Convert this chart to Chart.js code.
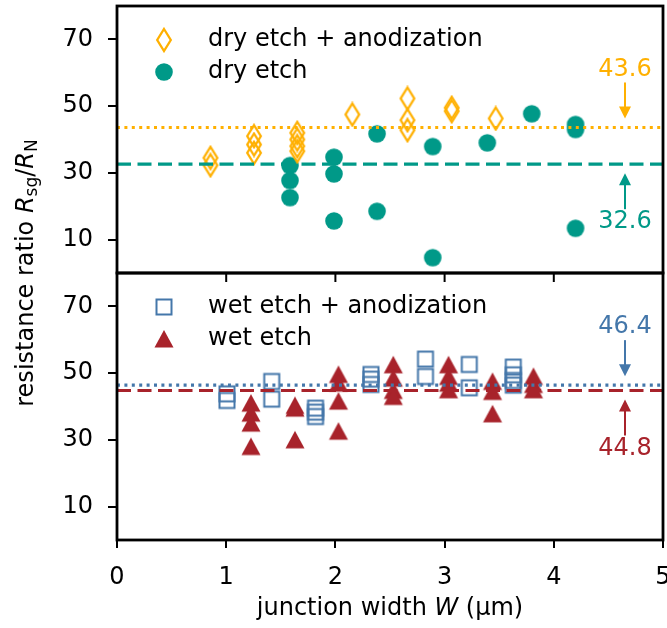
<!DOCTYPE html>
<html>
<head>
<meta charset="utf-8">
<script src="https://cdn.jsdelivr.net/npm/chart.js@4.4.0/dist/chart.umd.min.js"></script>
<style>
  html, body { margin: 0; padding: 0; background: #fff; }
  canvas { display: block; }
</style>
</head>
<body>
<canvas id="grafico-razao" width="667" height="628"></canvas>
<script>
// Upper panel: dry etch, with and without anodization
var dryAnodX = [0.856, 0.856, 1.255, 1.255, 1.255, 1.651, 1.651, 1.651, 1.651, 2.155, 2.66, 2.66, 2.66, 3.065, 3.065, 3.468];
var dryAnodY = [34.5, 32.3, 41.0, 38.5, 36.0, 42.0, 40.0, 38.0, 36.5, 47.5, 52.3, 45.8, 42.8, 49.5, 48.5, 46.3];
var dryX = [1.584, 1.584, 1.584, 1.987, 1.987, 1.987, 2.381, 2.381, 2.891, 2.891, 3.391, 3.798, 4.199, 4.199, 4.199];
var dryY = [32.2, 27.7, 22.6, 34.7, 29.7, 15.6, 41.7, 18.5, 37.9, 4.6, 39.0, 47.7, 44.5, 43.0, 13.4];

// Lower panel: wet etch, with and without anodization
var wetAnodX = [1.007, 1.007, 1.417, 1.417, 1.818, 1.818, 1.818, 2.326, 2.326, 2.326, 2.825, 2.825, 3.226, 3.226, 3.629, 3.629, 3.629, 3.629];
var wetAnodY = [43.8, 41.8, 47.5, 42.2, 39.5, 38.3, 37.0, 49.6, 48.2, 46.6, 54.2, 49.0, 52.6, 45.6, 51.8, 49.5, 47.8, 46.4];
var wetX = [1.227, 1.227, 1.227, 1.227, 1.63, 1.63, 1.63, 2.028, 2.028, 2.028, 2.028, 2.53, 2.53, 2.53, 2.53, 3.036, 3.036, 3.036, 3.036, 3.439, 3.439, 3.439, 3.814, 3.814, 3.814];
var wetY = [41.0, 38.0, 35.0, 28.0, 40.3, 39.5, 30.0, 49.6, 47.0, 41.6, 32.6, 52.5, 48.5, 44.8, 43.0, 52.5, 49.0, 47.0, 45.0, 47.5, 44.5, 37.8, 49.0, 46.6, 45.0];

// Mean ratios
var meanDryAnod = 43.6;
var meanDry = 32.6;
var meanWetAnod = 46.4;
var meanWet = 44.8;
var meanLabelX = 4.652;

// Axes
var xTicks = [0, 1, 2, 3, 4, 5];
var yTicks = [10, 30, 50, 70];
var labelsDry = ["dry etch + anodization", "dry etch"];
var labelsWet = ["wet etch + anodization", "wet etch"];

var FONT = "DejaVu Sans";
var FONT_SIZE = 24;
var corLaranja = "#FFB000";
var corVerde = "#009988";
var corAzul = "#4477AA";
var corVermelho = "#A8232B";

// Marcadores desenhados em canvas pequenos
function criaMarcador(w, h, desenho) {
  var c = document.createElement("canvas");
  c.width = w;
  c.height = h;
  desenho(c.getContext("2d"));
  return c;
}

var marcadorLosango = criaMarcador(18, 26, function (g) {
  g.strokeStyle = corLaranja;
  g.lineWidth = 2.3;
  g.beginPath();
  g.moveTo(9, 2);
  g.lineTo(15.8, 13);
  g.lineTo(9, 24);
  g.lineTo(2.2, 13);
  g.closePath();
  g.stroke();
});

var marcadorCirculo = criaMarcador(20, 20, function (g) {
  g.fillStyle = corVerde;
  g.beginPath();
  g.arc(10, 10, 8.8, 0, Math.PI * 2);
  g.fill();
});

var marcadorQuadrado = criaMarcador(20, 20, function (g) {
  g.strokeStyle = corAzul;
  g.lineWidth = 2;
  g.strokeRect(2.5, 2.5, 15, 15);
});

var marcadorTriangulo = criaMarcador(22, 20, function (g) {
  g.fillStyle = corVermelho;
  g.beginPath();
  g.moveTo(11, 1);
  g.lineTo(20.5, 18.5);
  g.lineTo(1.5, 18.5);
  g.closePath();
  g.fill();
});

function pontos(xs, ys) {
  return xs.map(function (x, i) {
    return { x: x, y: ys[i] };
  });
}

function linhaMedia(valor, cor, tracejado, eixo) {
  return {
    type: "line",
    data: [{ x: xTicks[0], y: valor }, { x: xTicks[xTicks.length - 1], y: valor }],
    borderColor: cor,
    borderWidth: 3.2,
    borderDash: tracejado,
    pointRadius: 0,
    yAxisID: eixo,
  };
}

function serie(xs, ys, marcador, eixo) {
  return {
    data: pontos(xs, ys),
    pointStyle: marcador,
    pointRadius: 9,
    yAxisID: eixo,
  };
}

var fonteTicks = { family: FONT, size: FONT_SIZE };

function eixoY(peso) {
  return {
    type: "linear",
    position: "left",
    stack: "paineis",
    stackWeight: 1,
    weight: peso,
    min: 0,
    max: 80,
    afterBuildTicks: function (s) {
      s.ticks = yTicks.map(function (v) { return { value: v }; });
    },
    ticks: { font: fonteTicks, color: "#000", padding: 15 },
    grid: { drawOnChartArea: false, tickLength: 9, lineWidth: 2, color: "#000" },
    border: { display: false },
    afterFit: function (s) {
      s.width = 117;
      s.paddingTop = 0;
      s.paddingBottom = 0;
    },
  };
}

// Texto com trechos em itálico e subscrito
function desenhaTrechos(ctx, trechos, x, y) {
  var larguras = trechos.map(function (t) {
    ctx.font = (t.italic ? "italic " : "") + t.size + "px " + FONT;
    return ctx.measureText(t.text).width;
  });
  var total = larguras.reduce(function (a, b) { return a + b; }, 0);
  var cx = x - total / 2;
  trechos.forEach(function (t, i) {
    ctx.font = (t.italic ? "italic " : "") + t.size + "px " + FONT;
    ctx.fillText(t.text, cx, y + (t.shift || 0));
    cx += larguras[i];
  });
}

function desenhaSeta(ctx, x, yCauda, yPonta, cor) {
  var dir = yPonta > yCauda ? 1 : -1;
  ctx.strokeStyle = cor;
  ctx.fillStyle = cor;
  ctx.lineWidth = 2;
  ctx.beginPath();
  ctx.moveTo(x, yCauda);
  ctx.lineTo(x, yPonta - dir * 8);
  ctx.stroke();
  ctx.beginPath();
  ctx.moveTo(x, yPonta);
  ctx.lineTo(x - 6, yPonta - dir * 12);
  ctx.lineTo(x + 6, yPonta - dir * 12);
  ctx.closePath();
  ctx.fill();
}

// Molduras, legendas, anotações das médias e títulos dos eixos
var pluginMoldura = {
  id: "moldura",
  afterDatasetsDraw: function (chart) {
    var ctx = chart.ctx;
    var area = chart.chartArea;
    var sx = chart.scales.x;
    var yTop = chart.scales.yTop;
    var yBottom = chart.scales.yBottom;
    ctx.save();

    // ticks do eixo x do painel de cima
    ctx.strokeStyle = "#000";
    ctx.lineWidth = 2;
    xTicks.forEach(function (v) {
      var px = sx.getPixelForValue(v);
      ctx.beginPath();
      ctx.moveTo(px, yTop.bottom);
      ctx.lineTo(px, yTop.bottom + 9);
      ctx.stroke();
    });

    ctx.lineWidth = 2.8;
    [yTop, yBottom].forEach(function (s) {
      ctx.strokeRect(area.left, s.top, area.right - area.left, s.bottom - s.top);
    });

    // legendas
    var legendas = [
      { s: yTop, m: [marcadorLosango, marcadorCirculo], t: labelsDry },
      { s: yBottom, m: [marcadorQuadrado, marcadorTriangulo], t: labelsWet },
    ];
    ctx.fillStyle = "#000";
    ctx.textBaseline = "middle";
    ctx.textAlign = "left";
    ctx.font = FONT_SIZE + "px " + FONT;
    legendas.forEach(function (l) {
      [0, 1].forEach(function (i) {
        var py = l.s.top + 34 + i * 32;
        var mk = l.m[i];
        ctx.drawImage(mk, area.left + 47 - mk.width / 2, py - mk.height / 2);
        ctx.fillText(l.t[i], area.left + 91, py);
      });
    });

    // anotações das médias
    var px = sx.getPixelForValue(meanLabelX);
    var notas = [
      { s: yTop, v: meanDryAnod, c: corLaranja, dir: -1 },
      { s: yTop, v: meanDry, c: corVerde, dir: 1 },
      { s: yBottom, v: meanWetAnod, c: corAzul, dir: -1 },
      { s: yBottom, v: meanWet, c: corVermelho, dir: 1 },
    ];
    ctx.textAlign = "center";
    notas.forEach(function (n) {
      var py = n.s.getPixelForValue(n.v);
      desenhaSeta(ctx, px, py + n.dir * 45, py + n.dir * 9, n.c);
      ctx.fillStyle = n.c;
      ctx.fillText(n.v.toFixed(1), px, py + n.dir * 58);
    });

    // título do eixo x
    ctx.fillStyle = "#000";
    ctx.textAlign = "left";
    ctx.textBaseline = "alphabetic";
    desenhaTrechos(ctx, [
      { text: "junction width ", size: FONT_SIZE },
      { text: "W", size: FONT_SIZE, italic: true },
      { text: " (\u03bcm)", size: FONT_SIZE },
    ], (area.left + area.right) / 2, 615);

    // título do eixo y
    ctx.save();
    ctx.translate(33, (yTop.top + yBottom.bottom) / 2);
    ctx.rotate(-Math.PI / 2);
    var sub = Math.round(FONT_SIZE * 0.7);
    desenhaTrechos(ctx, [
      { text: "resistance ratio ", size: FONT_SIZE },
      { text: "R", size: FONT_SIZE, italic: true },
      { text: "sg", size: sub, shift: 4 },
      { text: "/", size: FONT_SIZE },
      { text: "R", size: FONT_SIZE, italic: true },
      { text: "N", size: sub, shift: 4 },
    ], 0, 0);
    ctx.restore();

    ctx.restore();
  },
};

var ctx = document.getElementById("grafico-razao").getContext("2d");
new Chart(ctx, {
  type: "scatter",
  data: {
    datasets: [
      linhaMedia(meanDryAnod, corLaranja, [3, 4.4], "yTop"),
      linhaMedia(meanDry, corVerde, [14, 6.5], "yTop"),
      linhaMedia(meanWetAnod, corAzul, [3, 4.4], "yBottom"),
      linhaMedia(meanWet, corVermelho, [14, 6.5], "yBottom"),
      serie(dryAnodX, dryAnodY, marcadorLosango, "yTop"),
      serie(dryX, dryY, marcadorCirculo, "yTop"),
      serie(wetAnodX, wetAnodY, marcadorQuadrado, "yBottom"),
      serie(wetX, wetY, marcadorTriangulo, "yBottom"),
    ],
  },
  options: {
    responsive: false,
    animation: false,
    events: [],
    layout: { autoPadding: false, padding: { top: 6, right: 4, left: 0, bottom: 0 } },
    plugins: {
      legend: { display: false },
      tooltip: { enabled: false },
    },
    scales: {
      x: {
        type: "linear",
        min: 0,
        max: 5,
        afterBuildTicks: function (s) {
          s.ticks = xTicks.map(function (v) { return { value: v }; });
        },
        ticks: { font: fonteTicks, color: "#000", padding: 15, maxRotation: 0 },
        grid: { drawOnChartArea: false, tickLength: 8, lineWidth: 2, color: "#000" },
        border: { display: false },
        afterFit: function (s) {
          s.height = 88;
          s.paddingLeft = 0;
          s.paddingRight = 0;
        },
      },
      yTop: eixoY(2),
      yBottom: eixoY(1),
    },
  },
  plugins: [pluginMoldura],
});
</script>
</body>
</html>
